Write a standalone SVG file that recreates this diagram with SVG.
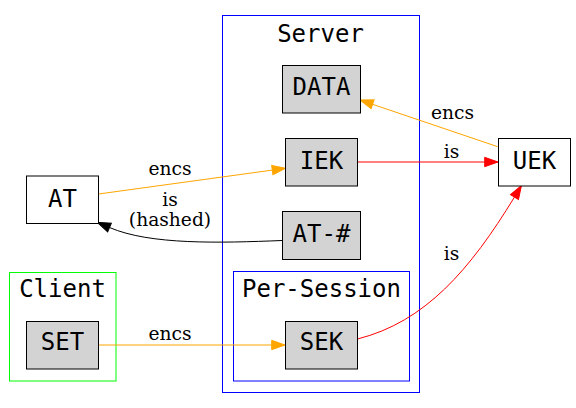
<svg xmlns="http://www.w3.org/2000/svg" width="576" height="408" viewBox="0 0 576 408">
<style>
.node rect{stroke:#000;stroke-width:1}
.gray{fill:#d3d3d3}
.white{fill:#fff}
.nl{font-family:"DejaVu Sans Mono",monospace;font-size:24px;text-anchor:middle;fill:#000}
.cl{font-family:"DejaVu Sans Mono",monospace;font-size:24px;text-anchor:middle;fill:#000}
.el{font-family:"DejaVu Serif",serif;font-size:18.67px;text-anchor:middle;fill:#000}
.clu{fill:none;stroke-width:1}
.edge{fill:none;stroke-width:1}
</style>
<defs>
<marker id="ao" viewBox="0 0 14 10" refX="0" refY="5" markerWidth="14" markerHeight="10" markerUnits="userSpaceOnUse" orient="auto" overflow="visible"><path d="M0,0.33 L13.3,5 L0,9.67z" fill="#ffa500" stroke="#ffa500"/></marker>
<marker id="ar" viewBox="0 0 14 10" refX="0" refY="5" markerWidth="14" markerHeight="10" markerUnits="userSpaceOnUse" orient="auto" overflow="visible"><path d="M0,0.33 L13.3,5 L0,9.67z" fill="#ff0000" stroke="#ff0000"/></marker>
<marker id="ab" viewBox="0 0 14 10" refX="0" refY="5" markerWidth="14" markerHeight="10" markerUnits="userSpaceOnUse" orient="auto" overflow="visible"><path d="M0,0.33 L13.3,5 L0,9.67z" fill="#000" stroke="#000"/></marker>
</defs>
<rect width="576" height="408" fill="#fff"/>
<g id="cluster_server">
<rect class="clu" x="222.5" y="15.5" width="197" height="377" stroke="#0000ff"/>
<text class="cl" x="320.5" y="41.5">Server</text>
</g>
<g id="cluster_session">
<rect class="clu" x="233.5" y="271.5" width="176" height="109.5" stroke="#0000ff"/>
<text class="cl" x="321.5" y="296.5">Per-Session</text>
</g>
<g id="cluster_client">
<rect class="clu" x="9.5" y="272.5" width="106.5" height="108.5" stroke="#00ff00"/>
<text class="cl" x="62.5" y="296.5">Client</text>
</g>
<g id="connectors">
<path class="edge" d="M98.5,194 L272.3,170.1" stroke="#ffa500" marker-end="url(#ao)"/>
<text class="el" x="170" y="175">encs</text>
<path class="edge" d="M282,240.5 C220,243 150,245 109.5,227.5" stroke="#000" marker-end="url(#ab)"/>
<text class="el" x="170" y="206">is</text>
<text class="el" x="170" y="225.5">(hashed)</text>
<path class="edge" d="M497.7,146.7 L372.6,104.3" stroke="#ffa500" marker-end="url(#ao)"/>
<text class="el" x="452.5" y="119">encs</text>
<path class="edge" d="M357.5,162 L484.7,162" stroke="#ff0000" marker-end="url(#ar)"/>
<text class="el" x="451.5" y="157.5">is</text>
<path class="edge" d="M357.5,339 C425,322 470,270 514.5,197" stroke="#ff0000" marker-end="url(#ar)"/>
<text class="el" x="451.5" y="259.5">is</text>
<path class="edge" d="M98.5,345 L271.7,345" stroke="#ffa500" marker-end="url(#ao)"/>
<text class="el" x="170" y="339.5">encs</text>
</g>
<g id="DATA" class="node"><rect class="gray" x="282.5" y="65.5" width="78" height="47.5"/><text class="nl" x="321.5" y="95">DATA</text></g>
<g id="IEK" class="node"><rect class="gray" x="285.5" y="138.5" width="72" height="47.5"/><text class="nl" x="321.5" y="168.5">IEK</text></g>
<g id="AT_hash" class="node"><rect class="gray" x="282.5" y="211.5" width="78" height="48"/><text class="nl" x="321.5" y="242">AT-#</text></g>
<g id="SEK" class="node"><rect class="gray" x="285.5" y="321.5" width="72" height="47.5"/><text class="nl" x="321.5" y="350">SEK</text></g>
<g id="AT" class="node"><rect class="white" x="26.5" y="176" width="72" height="47.5"/><text class="nl" x="62.5" y="206.5">AT</text></g>
<g id="SET" class="node"><rect class="gray" x="26.5" y="321.5" width="72" height="47.5"/><text class="nl" x="62.5" y="350">SET</text></g>
<g id="UEK" class="node"><rect class="white" x="498.5" y="138.5" width="72" height="47.5"/><text class="nl" x="534.5" y="168.5">UEK</text></g>
</svg>
